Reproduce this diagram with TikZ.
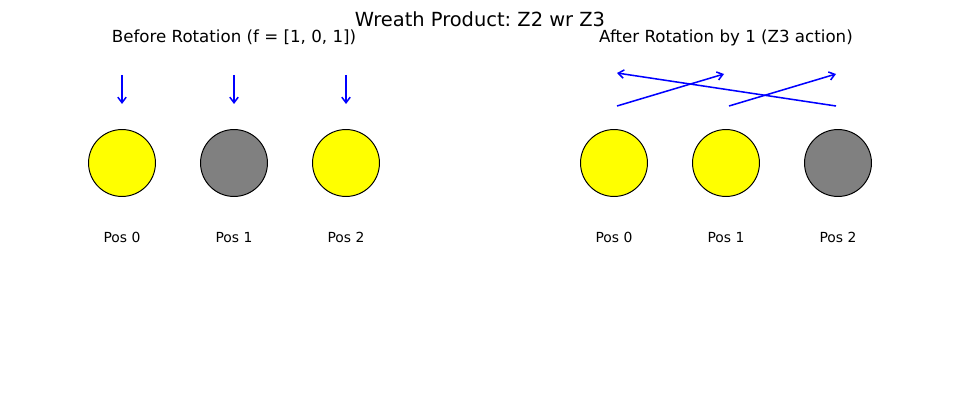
\documentclass[tikz,border=0pt]{standalone}
\usepackage{fontspec}
\setmainfont{DejaVu Sans}
\usetikzlibrary{positioning,arrows.meta}
\frenchspacing
\definecolor{ballyellow}{RGB}{255,255,0}
\definecolor{ballgray}{RGB}{128,128,128}
\tikzset{
  ball/.style={circle,draw,line width=0.7pt,minimum size=48.2pt,inner sep=0pt},
  act/.style={blue,line width=1.1pt,-{Straight Barb[length=4pt,width=6pt]}},
  poslab/.style={font=\fontsize{10}{12}\selectfont,text height=7.3pt,text depth=0pt},
  head/.style={font=\fontsize{12}{14}\selectfont,text height=8.8pt,text depth=2.3pt}
}
\begin{document}
\begin{tikzpicture}[x=0.72pt,y=-0.72pt]
\useasboundingbox (0,0) rectangle (960,397);
\node[font=\fontsize{14}{16}\selectfont] (title) at (480,19) {Wreath Product: Z2 wr Z3};
\node[head] (before) at (234,38) {Before Rotation (f = [1, 0, 1])};
\node[head] (after) at (726,38) {After Rotation by 1 (Z3 action)};
% before
\node[ball,fill=ballyellow] (b0) at (122,163) {};
\node[ball,fill=ballgray] (b1) at (234,163) {};
\node[ball,fill=ballyellow] (b2) at (346,163) {};
\node[poslab] (lb0) at (122,237) {Pos 0};
\node[poslab] (lb1) at (234,237) {Pos 1};
\node[poslab] (lb2) at (346,237) {Pos 2};
\foreach \i/\x in {0/122,1/234,2/346}{
  \coordinate (s\i) at (\x,75);
  \coordinate (e\i) at (\x,104);
  \draw[act] (s\i)--(e\i);
}
% after
\node[ball,fill=ballyellow] (a0) at (614,163) {};
\node[ball,fill=ballyellow] (a1) at (726,163) {};
\node[ball,fill=ballgray] (a2) at (838,163) {};
\node[poslab] (la0) at (614,237) {Pos 0};
\node[poslab] (la1) at (726,237) {Pos 1};
\node[poslab] (la2) at (838,237) {Pos 2};
\coordinate (p0) at (617,106);
\coordinate (q0) at (724,74);
\coordinate (p1) at (729,106);
\coordinate (q1) at (836,74);
\coordinate (p2) at (836,106);
\coordinate (q2) at (617,73);
\draw[act] (p0)--(q0);
\draw[act] (p1)--(q1);
\draw[act] (p2)--(q2);
\end{tikzpicture}
\end{document}
